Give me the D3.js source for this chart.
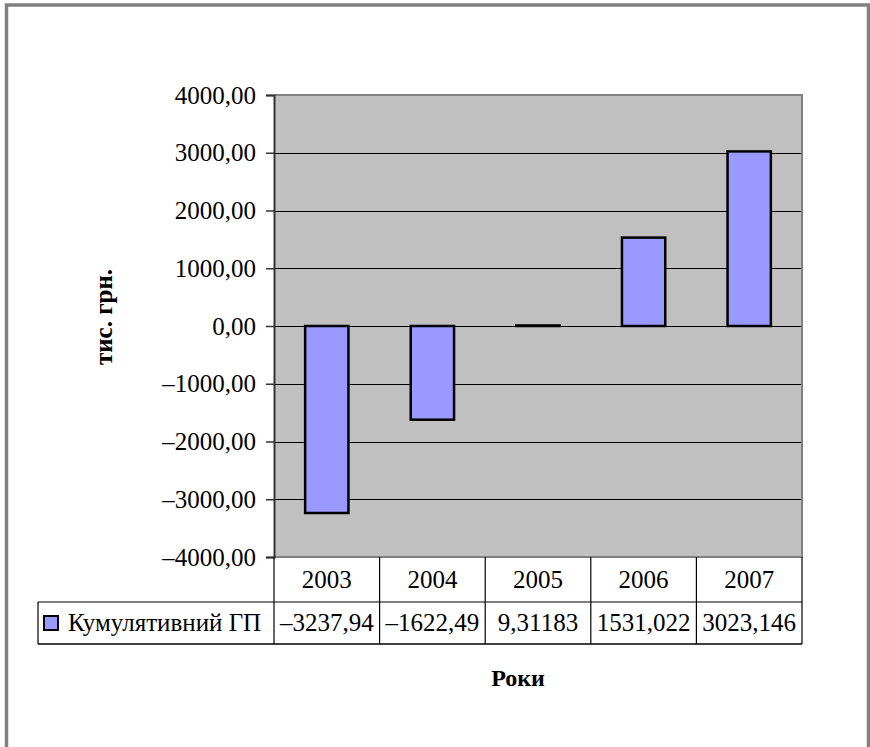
<!DOCTYPE html>
<html>
<head>
<meta charset="utf-8">
<script src="https://cdn.jsdelivr.net/npm/d3@7"></script>
<style>
  html, body { margin: 0; padding: 0; background: #fff; }
  svg { display: block; }
  text { font-family: "Liberation Serif", "Times New Roman", serif; fill: #000; }
</style>
</head>
<body>
<svg id="chart" width="870" height="747"></svg>
<script>
// Cumulative gap by year (thousand UAH)
const years = ["2003", "2004", "2005", "2006", "2007"];
const cumulativeGap = [-3237.94, -1622.49, 9.31183, 1531.022, 3023.146];
const seriesName = "Кумулятивний ГП";
const yTicks = [-4000, -3000, -2000, -1000, 0, 1000, 2000, 3000, 4000];
const yTitle = "тис. грн.";
const xTitle = "Роки";

const svg = d3.select("#chart");
const serif = "'Liberation Serif', 'Times New Roman', serif";

const plot = { left: 274, right: 802, top: 95, bottom: 557 };
const table = { legendLeft: 38, row1: 557, row2: 602, bottom: 644 };
const fontSize = 25;

// decimal comma and en-dash minus, as in the spreadsheet
const fmtTick = v => d3.format(".2f")(v).replace(".", ",").replace("−", "–").replace("-", "–");
const fmtVal = v => String(v).replace(".", ",").replace("-", "–");

// outer frame
svg.append("rect")
  .attr("x", 6.5).attr("y", 5).attr("width", 862).attr("height", 760)
  .attr("fill", "#fff").attr("stroke", "#808080").attr("stroke-width", 3.5);

const x = d3.scaleBand().domain(years).range([plot.left, plot.right]).paddingInner(0).paddingOuter(0);
const y = d3.scaleLinear().domain([-4000, 4000]).range([plot.bottom, plot.top]);

// plot background
svg.append("rect")
  .attr("x", plot.left).attr("y", plot.top)
  .attr("width", plot.right - plot.left).attr("height", plot.bottom - plot.top)
  .attr("fill", "#C0C0C0");

// horizontal gridlines
svg.append("g").selectAll("line")
  .data(yTicks.filter(t => t !== -4000 && t !== 4000))
  .join("line")
  .attr("x1", plot.left).attr("x2", plot.right)
  .attr("y1", d => Math.round(y(d)) + 0.5).attr("y2", d => Math.round(y(d)) + 0.5)
  .attr("stroke", "#000").attr("stroke-width", 1.2);

// plot border (top, right, bottom)
svg.append("path")
  .attr("d", `M${plot.left},${plot.top} H${plot.right} V${plot.bottom} H${plot.left}`)
  .attr("fill", "none").attr("stroke", "#808080").attr("stroke-width", 2);

// bars
const barW = x.bandwidth() * 0.41;
svg.append("g").selectAll("rect")
  .data(years.map((yr, i) => ({ yr, v: cumulativeGap[i] })))
  .join("rect")
  .attr("x", d => x(d.yr) + (x.bandwidth() - barW) / 2)
  .attr("y", d => y(Math.max(0, d.v)))
  .attr("width", barW)
  .attr("height", d => Math.abs(y(d.v) - y(0)))
  .attr("fill", "#9999FF")
  .attr("stroke", "#000").attr("stroke-width", 2.5);

// y axis
const yAxis = d3.axisLeft(y).tickValues(yTicks).tickFormat(fmtTick).tickSizeOuter(0).tickSize(8).tickPadding(10);
const gy = svg.append("g").attr("transform", `translate(${plot.left},0)`).call(yAxis)
  .attr("font-family", serif).attr("font-size", fontSize);
gy.select(".domain").attr("stroke", "#333").attr("stroke-width", 2);
gy.selectAll(".tick line").attr("stroke", "#333").attr("stroke-width", 1.5);
gy.selectAll(".tick text").attr("fill", "#000");

// axis line continues through the category row of the data table
svg.append("line")
  .attr("x1", plot.left).attr("x2", plot.left)
  .attr("y1", plot.bottom).attr("y2", table.bottom)
  .attr("stroke", "#000").attr("stroke-width", 1.2);

// data table
const tg = svg.append("g").attr("font-family", serif).attr("font-size", fontSize);
const bounds = years.map(yr => x(yr)).concat([plot.right]);
tg.selectAll("line.v")
  .data(bounds.slice(1))
  .join("line")
  .attr("x1", d => d).attr("x2", d => d)
  .attr("y1", table.row1).attr("y2", table.bottom)
  .attr("stroke", "#000").attr("stroke-width", 1.2);
tg.append("line")
  .attr("x1", table.legendLeft).attr("x2", plot.right)
  .attr("y1", table.row2).attr("y2", table.row2)
  .attr("stroke", "#000").attr("stroke-width", 1.2);
tg.append("line")
  .attr("x1", table.legendLeft).attr("x2", plot.right)
  .attr("y1", table.bottom).attr("y2", table.bottom)
  .attr("stroke", "#000").attr("stroke-width", 1.5);
tg.append("line")
  .attr("x1", table.legendLeft).attr("x2", table.legendLeft)
  .attr("y1", table.row2).attr("y2", table.bottom)
  .attr("stroke", "#000").attr("stroke-width", 1.2);

tg.selectAll("text.cat")
  .data(years)
  .join("text")
  .attr("x", d => x(d) + x.bandwidth() / 2)
  .attr("y", (table.row1 + table.row2) / 2 + 8)
  .attr("text-anchor", "middle")
  .text(d => d);

tg.selectAll("text.val")
  .data(years.map((yr, i) => ({ yr, v: cumulativeGap[i] })))
  .join("text")
  .attr("x", d => x(d.yr) + x.bandwidth() / 2)
  .attr("y", (table.row2 + table.bottom) / 2 + 8)
  .attr("text-anchor", "middle")
  .text(d => fmtVal(d.v));

// legend key in the table
tg.append("rect")
  .attr("x", 44).attr("y", 616).attr("width", 14).attr("height", 14)
  .attr("fill", "#9999FF").attr("stroke", "#000").attr("stroke-width", 2);
tg.append("text")
  .attr("x", 68).attr("y", (table.row2 + table.bottom) / 2 + 8)
  .text(seriesName);

// axis titles
svg.append("text")
  .attr("transform", `translate(${112},${317}) rotate(-90)`)
  .attr("text-anchor", "middle")
  .attr("font-family", serif).attr("font-size", 25).attr("font-weight", "bold")
  .text(yTitle);

svg.append("text")
  .attr("x", 518).attr("y", 686)
  .attr("text-anchor", "middle")
  .attr("font-family", serif).attr("font-size", 24).attr("font-weight", "bold")
  .text(xTitle);
</script>
</body>
</html>
